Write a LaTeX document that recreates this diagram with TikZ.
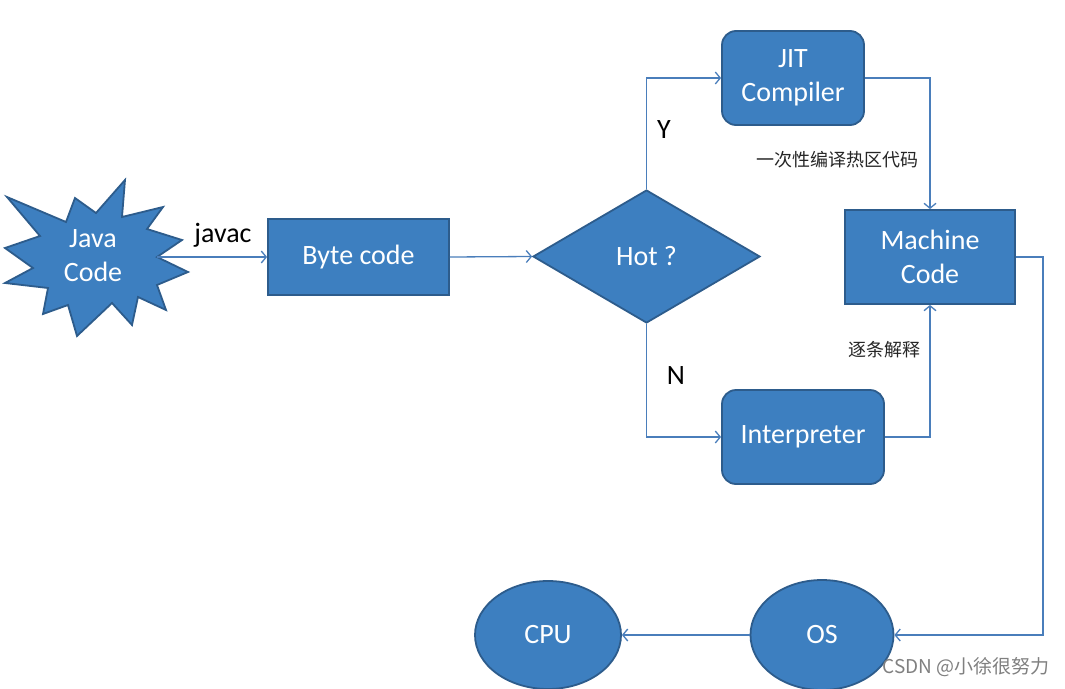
\documentclass[tikz,border=0pt]{standalone}
\usepackage{fontspec}
\setmainfont{Carlito}
\newfontfamily\cjk{Noto Sans CJK SC}
\usetikzlibrary{shapes.geometric,arrows.meta}
\definecolor{boxfill}{RGB}{61,127,192}
\definecolor{boxline}{RGB}{45,92,140}
\definecolor{connc}{RGB}{74,126,187}
\begin{document}
\begin{tikzpicture}[x=1pt,y=-1pt,
  box/.style={draw=boxline, line width=1.8pt, fill=boxfill, text=white,
    font=\fontsize{28}{34}\selectfont, align=center, inner sep=0pt},
  conn/.style={draw=connc, line width=1.3pt, -{Straight Barb[length=5pt,width=12pt]}},
  lbl/.style={font=\fontsize{28}{34}\selectfont, text=black},
  cn/.style={font=\cjk\fontsize{18}{22}\selectfont, text=black!85}]
\useasboundingbox[fill=white] (0,0) rectangle (1065,688);

% Java code explosion shape
\draw[draw=boxline, line width=1.8pt, fill=boxfill, line join=miter]
  (125,180) -- (122,217) -- (163,207) -- (147,229) -- (182,240) -- (157,257)
  -- (188,272) -- (157,285) -- (166,310) -- (138,297) -- (132,325) -- (112,303)
  -- (77,336) -- (68,305) -- (43,314) -- (48,288) -- (5,283) -- (33,268)
  -- (5,248) -- (40,236) -- (7,197) -- (66,222) -- (75,198) -- (96,213) -- cycle;
\node[text=white, font=\fontsize{28}{34}\selectfont, align=center] (java) at (93,256) {Java\\Code};
\coordinate (javaout) at (157,257);

\node[box, rectangle, minimum width=181pt, minimum height=76pt] (byte) at (358.5,257) {Byte code};
\node[box, diamond, minimum width=227pt, minimum height=133pt] (hot) at (646.5,256.5) {Hot ?};
\node[box, rectangle, rounded corners=14pt, minimum width=142pt, minimum height=94pt] (jit) at (793,78) {JIT\\Compiler};
\node[box, rectangle, minimum width=170pt, minimum height=94pt] (machine) at (930,257) {Machine\\Code};
\node[box, rectangle, rounded corners=14pt, minimum width=162pt, minimum height=94pt] (interp) at (803,437) {Interpreter};
\node[box, ellipse, minimum width=143pt, minimum height=110pt] (os) at (822,635) {OS};
\node[box, ellipse, minimum width=146pt, minimum height=108pt] (cpu) at (548,635) {CPU};

\coordinate (mc) at (1043,257);

\draw[conn] (javaout) -- (byte.west);
\draw[conn] (byte.east) -- (hot.west);
\draw[conn] (hot.north) |- (jit.west);
\draw[conn] (hot.south) |- (interp.west);
\draw[conn] (jit.east) -| (machine.north);
\draw[conn] (interp.east) -| (machine.south);
\draw[conn] (machine.east) -- (mc) |- (os.east);
\draw[conn] (os.west) -- (cpu.east);

\node[lbl] (javac) at (223,235) {javac};
\node[lbl] (ylab) at (664,130) {Y};
\node[lbl] (nlab) at (676,376) {N};
\node[cn] (c1) at (837,160) {一次性编译热区代码};
\node[cn] (c2) at (884,350) {逐条解释};
\node[font=\cjk\fontsize{19}{22}\selectfont, text=black!50] (wm) at (966,667) {CSDN @小徐很努力};
\end{tikzpicture}
\end{document}
